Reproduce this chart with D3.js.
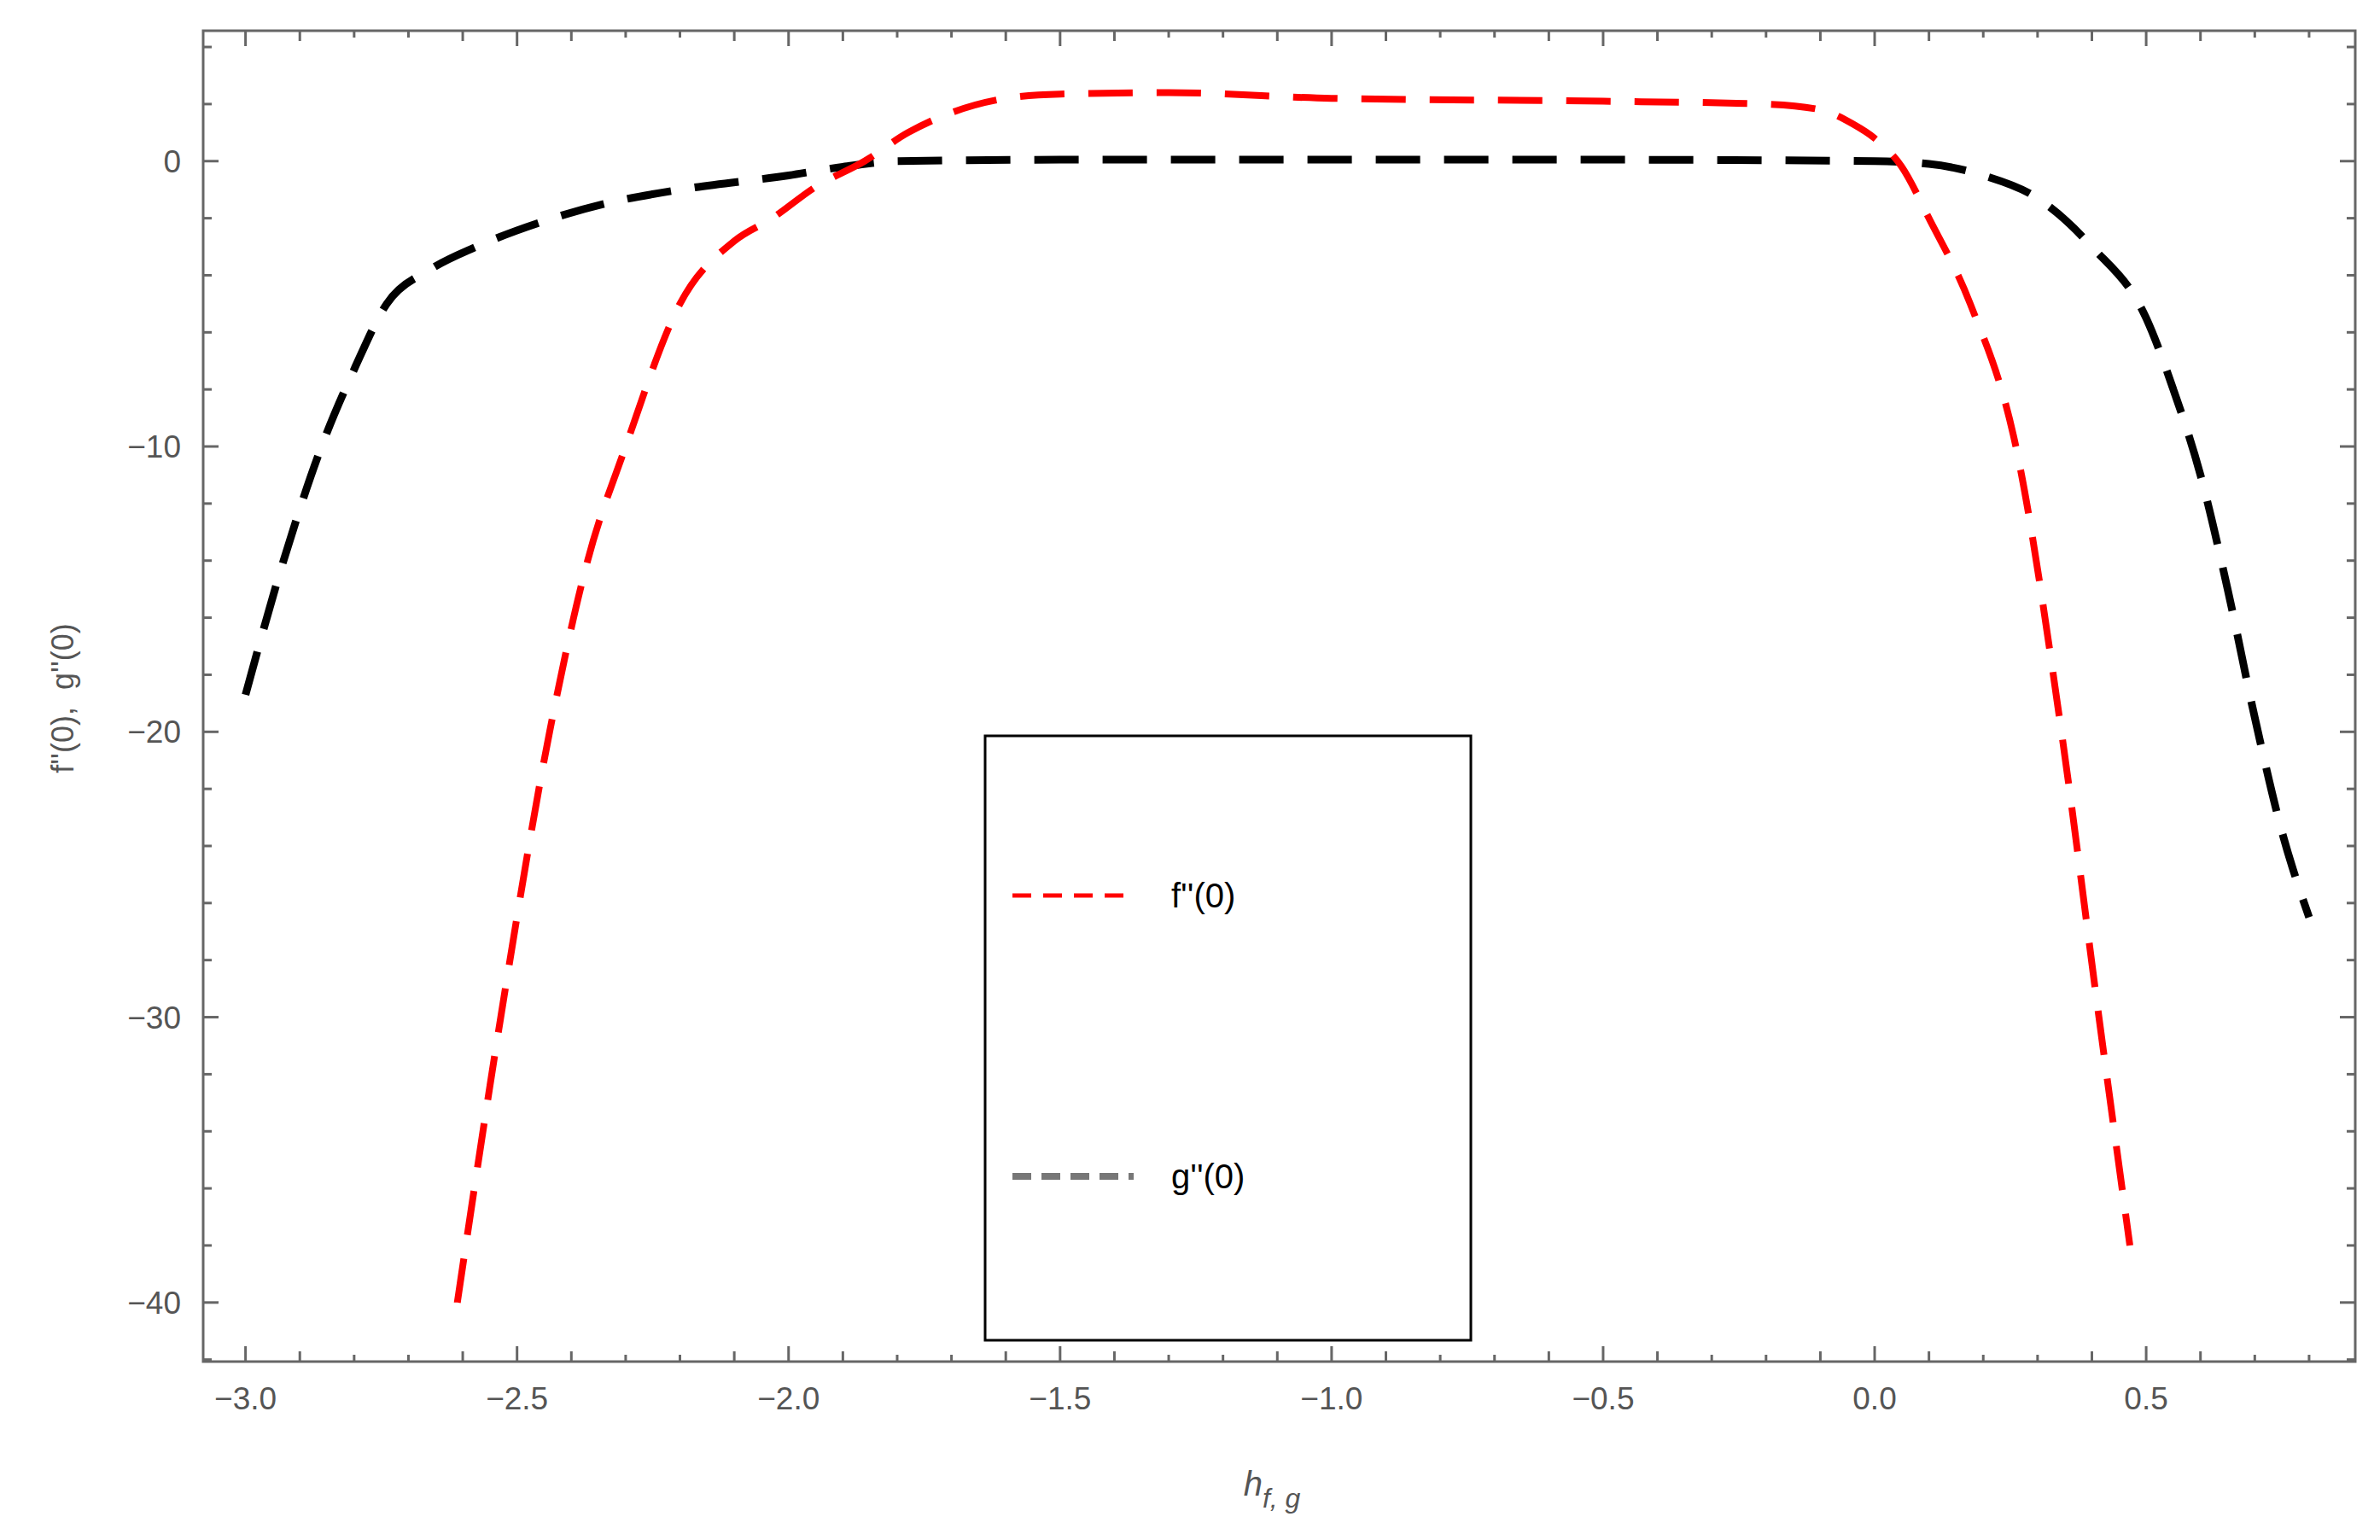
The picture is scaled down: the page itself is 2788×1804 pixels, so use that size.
<!DOCTYPE html>
<html><head><meta charset="utf-8">
<script src="https://cdn.jsdelivr.net/npm/d3@7"></script>
<style>body{margin:0;background:#fff}</style></head>
<body><svg id="c" width="2788" height="1804"></svg>
<script>
const fX = [-2.61,-2.53,-2.44,-2.37,-2.30,-2.20,-2.10,-2.03,-1.95,-1.86,-1.78,-1.70,-1.60,-1.50,-1.30,-1.00,-0.50,-0.20,-0.10,-0.04,0.00,0.05,0.10,0.176,0.26,0.344,0.413,0.47];
const fY = [-40,-30,-20,-14,-10,-5,-2.8,-2,-0.9,0,1.0,1.7,2.2,2.35,2.4,2.2,2.1,2.0,1.8,1.3,0.8,-0.2,-2,-5,-10,-20,-30,-38];
const gX = [-3.0,-2.93,-2.86,-2.80,-2.74,-2.66,-2.575,-2.45,-2.34,-2.2,-2.0,-1.9,-1.8,-1.5,-1.0,-0.5,0.0,0.1,0.2,0.3,0.4,0.5,0.55,0.6,0.65,0.7,0.75,0.8];
const gY = [-18.7,-14,-10,-7.3,-5,-3.8,-3,-2.1,-1.5,-1.0,-0.5,-0.2,0,0.05,0.05,0.05,0,-0.1,-0.5,-1.3,-3,-5.5,-8,-11,-15,-19.5,-23.5,-26.5];
const xMajor = [-3.0,-2.5,-2.0,-1.5,-1.0,-0.5,0.0,0.5];
const yMajor = [0,-10,-20,-30,-40];
const legendLabels = ["f''(0)","g''(0)"];

const svg = d3.select("#c");
const L=238,R=2759,T=36,B=1595;
const x = d3.scaleLinear().domain([-3.078,0.885]).range([L,R]);
const y = d3.scaleLinear().domain([4.57,-42.07]).range([T,B]);
const gray="#666";

svg.append("rect").attr("x",L).attr("y",T).attr("width",R-L).attr("height",B-T).attr("fill","none").attr("stroke",gray).attr("stroke-width",3);

const xMinor = d3.range(-30,9).map(d=>d/10);
const yMinor = d3.range(-42,5,2);
function tickLen(v,maj){return maj? 18 : 10;}
xMinor.forEach(v=>{
  const maj = xMajor.some(m=>Math.abs(m-v)<1e-6);
  const l = maj?18:(Math.abs((v*10)%5)===1||Math.abs((v*10)%5)===4?12:8);
  svg.append("line").attr("x1",x(v)).attr("x2",x(v)).attr("y1",B).attr("y2",B-l).attr("stroke",gray).attr("stroke-width",3);
  svg.append("line").attr("x1",x(v)).attr("x2",x(v)).attr("y1",T).attr("y2",T+l).attr("stroke",gray).attr("stroke-width",3);
});
yMinor.forEach(v=>{
  const maj = yMajor.includes(v);
  const l = maj?18:10;
  svg.append("line").attr("x1",L).attr("x2",L+l).attr("y1",y(v)).attr("y2",y(v)).attr("stroke",gray).attr("stroke-width",3);
  svg.append("line").attr("x1",R).attr("x2",R-l).attr("y1",y(v)).attr("y2",y(v)).attr("stroke",gray).attr("stroke-width",3);
});
const fnt="Liberation Sans, Arial, sans-serif";
xMajor.forEach(v=>svg.append("text").attr("x",x(v)).attr("y",B+56).attr("text-anchor","middle").attr("font-family",fnt).attr("font-size",37).attr("fill","#555").text(d3.format(".1f")(v).replace("-","\u2212")));
yMajor.forEach(v=>svg.append("text").attr("x",L-26).attr("y",y(v)+13).attr("text-anchor","end").attr("font-family",fnt).attr("font-size",37).attr("fill","#555").text(String(v).replace("-","\u2212")));

svg.append("text").attr("transform",`translate(86,818) rotate(-90)`).attr("text-anchor","middle").attr("font-family",fnt).attr("font-size",36).attr("fill","#555").attr("xml:space","preserve").text("f''(0),  g''(0)");
const xl = svg.append("text").attr("x",1490).attr("y",1752).attr("text-anchor","middle").attr("font-family",fnt).attr("font-size",40).attr("fill","#555").attr("font-style","italic");
xl.append("tspan").text("h");
xl.append("tspan").attr("dy",14).attr("font-size",32).text("f, g");

const clip = svg.append("clipPath").attr("id","cp").append("rect").attr("x",L).attr("y",T).attr("width",R-L).attr("height",B-T);
const line = d3.line().x(d=>x(d[0])).y(d=>y(d[1])).curve(d3.curveMonotoneX);
svg.append("path").attr("d",line(gX.map((v,i)=>[v,gY[i]]))).attr("fill","none").attr("stroke","#000").attr("stroke-width",9).attr("stroke-dasharray","52 28").attr("clip-path","url(#cp)");
svg.append("path").attr("d",line(fX.map((v,i)=>[v,fY[i]]))).attr("fill","none").attr("stroke","#f00").attr("stroke-width",8).attr("stroke-dasharray","52 28").attr("clip-path","url(#cp)");

svg.append("rect").attr("x",1154).attr("y",862).attr("width",569).attr("height",708).attr("fill","#fff").attr("stroke","#000").attr("stroke-width",3);
[[1049,"#f00",5,"22 14"],[1378,"#777",8,"22 12"]].forEach((d,i)=>{
  svg.append("line").attr("x1",1186).attr("x2",1328).attr("y1",d[0]).attr("y2",d[0]).attr("stroke",d[1]).attr("stroke-width",d[2]).attr("stroke-dasharray",d[3]);
  svg.append("text").attr("x",1372).attr("y",d[0]+14).attr("font-family",fnt).attr("font-size",40).attr("fill","#000").text(legendLabels[i]);
});
</script></body></html>
